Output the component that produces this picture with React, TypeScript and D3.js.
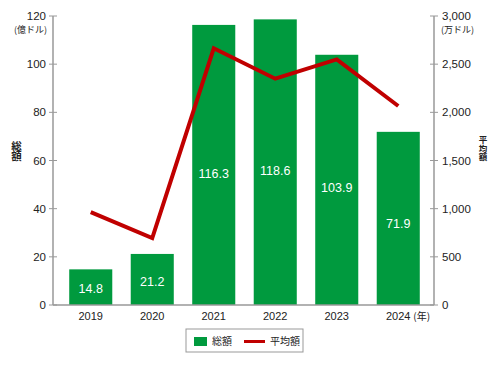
import { useEffect, useRef } from "react";
import * as d3 from "d3";

const years = ["2019", "2020", "2021", "2022", "2023", "2024"];
const totals = [14.8, 21.2, 116.3, 118.6, 103.9, 71.9];
const averages = [965, 695, 2665, 2349, 2550, 2066];
const leftTicks = [0, 20, 40, 60, 80, 100, 120];
const rightTicks = [0, 500, 1000, 1500, 2000, 2500, 3000];

const W = 500;
const H = 366;
const GREEN = "#009a3e";
const RED = "#c00000";
const AXIS = "#999999";
const FONT = "'Liberation Sans', 'Noto Sans CJK JP', sans-serif";
const JP = "'Noto Sans CJK JP', sans-serif";

export default function App() {
  const ref = useRef<SVGSVGElement>(null);

  useEffect(() => {
    const svg = d3.select(ref.current);
    svg.selectAll("*").remove();

    const x0 = 53, x1 = 434;
    const yTop = 16, yBot = 305;

    const x = d3.scaleBand<string>().domain(years).range([60, 429]).paddingInner(0.3).paddingOuter(0.15);
    const yL = d3.scaleLinear().domain([0, 120]).range([yBot, yTop]);
    const yR = d3.scaleLinear().domain([0, 3000]).range([yBot, yTop]);

    // bars
    svg.append("g")
      .selectAll("rect")
      .data(totals)
      .join("rect")
      .attr("x", (d, i) => x(years[i])!)
      .attr("width", x.bandwidth())
      .attr("y", d => yL(d))
      .attr("height", d => yBot - yL(d))
      .attr("fill", GREEN);

    // bar value labels
    svg.append("g")
      .selectAll("text")
      .data(totals)
      .join("text")
      .attr("x", (d, i) => x(years[i])! + x.bandwidth() / 2)
      .attr("y", d => yL(d * 0.47))
      .attr("dy", "0.36em")
      .attr("text-anchor", "middle")
      .attr("fill", "#fff")
      .attr("font-size", 12.5)
      .attr("font-family", FONT)
      .text(d => d.toFixed(1));

    // axes lines
    svg.append("line").attr("x1", x0).attr("x2", x0).attr("y1", yTop).attr("y2", yBot)
      .attr("stroke", AXIS).attr("stroke-width", 1.5);
    svg.append("line").attr("x1", x1).attr("x2", x1).attr("y1", yTop).attr("y2", yBot)
      .attr("stroke", AXIS).attr("stroke-width", 1.5);
    svg.append("line").attr("x1", x0).attr("x2", x1).attr("y1", yBot).attr("y2", yBot)
      .attr("stroke", AXIS).attr("stroke-width", 1.5);

    // left ticks
    const lt = svg.append("g").selectAll("g").data(leftTicks).join("g");
    lt.append("line")
      .attr("x1", x0 - 4).attr("x2", x0 + 4)
      .attr("y1", d => yL(d)).attr("y2", d => yL(d))
      .attr("stroke", AXIS).attr("stroke-width", 1);
    lt.append("text")
      .attr("x", x0 - 7).attr("y", d => yL(d)).attr("dy", "0.36em")
      .attr("text-anchor", "end").attr("font-size", 11.5).attr("font-family", FONT).attr("fill", "#222")
      .text(d => d);

    // right ticks
    const rt = svg.append("g").selectAll("g").data(rightTicks).join("g");
    rt.append("line")
      .attr("x1", x1 - 4).attr("x2", x1 + 4)
      .attr("y1", d => yR(d)).attr("y2", d => yR(d))
      .attr("stroke", AXIS).attr("stroke-width", 1);
    rt.append("text")
      .attr("x", x1 + 8).attr("y", d => yR(d)).attr("dy", "0.36em")
      .attr("text-anchor", "start").attr("font-size", 11.5).attr("font-family", FONT).attr("fill", "#222")
      .text(d => d3.format(",")(d));

    // units
    svg.append("text").attr("x", 47).attr("y", 29.5).attr("dy", "0.36em").attr("text-anchor", "end")
      .attr("font-size", 9).attr("font-family", JP).attr("fill", "#222").text("(億ドル)");
    svg.append("text").attr("x", 441).attr("y", 29.5).attr("dy", "0.36em").attr("text-anchor", "start")
      .attr("font-size", 9).attr("font-family", JP).attr("fill", "#222").text("(万ドル)");

    // axis titles: run rotated downwards, each glyph turned back upright
    const vTitle = (cx: number, cy: number, s: string, size: number) => {
      svg.append("text")
        .attr("transform", `translate(${cx},${cy}) rotate(90)`)
        .attr("x", 0)
        .attr("y", 0)
        .attr("dy", size * 0.5)
        .attr("rotate", s.split("").map(() => -90).join(" "))
        .attr("text-anchor", "middle")
        .attr("font-size", size)
        .attr("font-weight", "bold")
        .attr("font-family", JP)
        .attr("fill", "#222")
        .text(s);
    };
    vTitle(16.5, 160, "総額", 10.5);
    vTitle(483, 156, "平均額", 8.5);

    // x labels
    svg.append("g").selectAll("text").data(years).join("text")
      .attr("x", d => x(d)! + x.bandwidth() / 2)
      .attr("y", 316).attr("dy", "0.36em")
      .attr("text-anchor", "middle").attr("font-size", 11).attr("font-family", FONT).attr("fill", "#222")
      .text(d => d);
    svg.append("text")
      .attr("x", x("2024")! + x.bandwidth() / 2 + 15).attr("y", 316).attr("dy", "0.36em")
      .attr("font-size", 10).attr("font-family", JP).attr("fill", "#222").text("(年)");

    // average line
    const line = d3.line<number>()
      .x((d, i) => x(years[i])! + x.bandwidth() / 2)
      .y(d => yR(d));
    svg.append("path").datum(averages).attr("d", line)
      .attr("fill", "none").attr("stroke", RED).attr("stroke-width", 4).attr("stroke-linejoin", "miter");

    // legend
    const lg = svg.append("g");
    lg.append("rect").attr("x", 186).attr("y", 329).attr("width", 117).attr("height", 23)
      .attr("fill", "#fff").attr("stroke", "#999").attr("stroke-width", 1);
    lg.append("rect").attr("x", 194).attr("y", 337).attr("width", 13).attr("height", 9).attr("fill", GREEN);
    lg.append("text").attr("x", 212).attr("y", 341.5).attr("dy", "0.36em")
      .attr("font-size", 10).attr("font-family", JP).attr("fill", "#222").text("総額");
    lg.append("line").attr("x1", 244).attr("x2", 265).attr("y1", 341.5).attr("y2", 341.5)
      .attr("stroke", RED).attr("stroke-width", 3);
    lg.append("text").attr("x", 270).attr("y", 341.5).attr("dy", "0.36em")
      .attr("font-size", 10).attr("font-family", JP).attr("fill", "#222").text("平均額");
  }, []);

  return (
    <svg
      ref={ref}
      width={W}
      height={H}
      style={{ position: "absolute", left: 0, top: 0, background: "#fff" }}
    />
  );
}
